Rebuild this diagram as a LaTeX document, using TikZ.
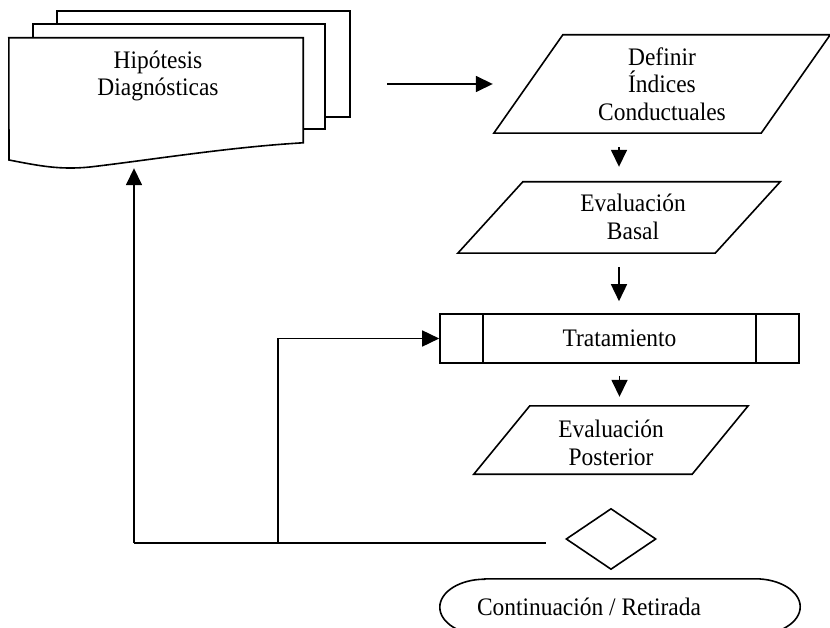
\documentclass[tikz,border=0pt]{standalone}
\usepackage{fontspec}
\setmainfont{Liberation Serif}[FakeStretch=0.93]
\usetikzlibrary{shapes.geometric,arrows.meta,calc}
\begin{document}
\begin{tikzpicture}[x=1pt,y=-1pt,
  ln/.style={line width=1.6pt},
  arr/.style={ln,-{Triangle[length=17pt,width=16pt]}},
  lbl/.style={font=\fontsize{25.2}{27.5}\selectfont, align=center, inner sep=0pt},
  frame/.style={inner sep=0pt}
]
\useasboundingbox (0,0) rectangle (830,628);

% document stack
\node[frame, minimum width=294pt, minimum height=130pt] (doc) at (156,103) {};
\draw[ln, fill=white] (57,11) rectangle (350,117);
\draw[ln, fill=white] (33,24) rectangle (325,129);
\draw[ln, fill=white] (doc.north west) -- (doc.north east) -- ++(0,105)
  .. controls (230,147) and (150,160) .. (90,167)
  .. controls (60,170) and (40,166) .. (9,160) -- cycle;
\node[lbl] (hyp) at (158,76) {Hipótesis\\Diagnósticas};

% Definir
\node[frame, minimum width=336pt, minimum height=98pt] (def) at (662,84) {};
\draw[ln] (def.south west) -- ([xshift=69pt]def.north west) -- (def.north east) -- ([xshift=-69pt]def.south east) -- cycle;
\node[lbl] (defT) at (662,84) {Definir\\Índices\\Conductuales};

% Basal
\node[frame, minimum width=322pt, minimum height=71pt] (bas) at (619,217.5) {};
\draw[ln] (bas.south west) -- ([xshift=65pt]bas.north west) -- (bas.north east) -- ([xshift=-65pt]bas.south east) -- cycle;
\node[lbl] (basT) at (633,217) {Evaluación\\Basal};

% Tratamiento
\node[draw, ln, lbl, minimum width=359pt, minimum height=49pt] (trat) at (619.5,338.5) {Tratamiento};
\draw[ln] ([xshift=43.5pt]trat.north west) -- ([xshift=43.5pt]trat.south west);
\draw[ln] ([xshift=-44pt]trat.north east) -- ([xshift=-44pt]trat.south east);

% Posterior
\node[frame, minimum width=274pt, minimum height=68pt] (post) at (611,440) {};
\draw[ln] (post.south west) -- ([xshift=56pt]post.north west) -- (post.north east) -- ([xshift=-56pt]post.south east) -- cycle;
\node[lbl] (postT) at (611,443) {Evaluación\\Posterior};

% decision
\node[draw, ln, diamond, inner sep=0pt, minimum width=90pt, minimum height=61pt] (dia) at (611,539) {};

% terminal
\node[frame, minimum width=360pt, minimum height=56pt] (fin) at (620,607) {};
\draw[ln] ([xshift=45pt]fin.north west) -- ([xshift=-45pt]fin.north east)
  arc[start angle=90, end angle=-90, x radius=45pt, y radius=28pt]
  -- ([xshift=45pt]fin.south west)
  arc[start angle=270, end angle=90, x radius=45pt, y radius=28pt] -- cycle;
\node[lbl] (finT) at (589,607) {Continuación / Retirada};

% connectors
\draw[arr, shorten <=84pt, shorten >=1pt] (doc.east |- def.west) -- (def.west);
\draw[arr, shorten <=14pt, shorten >=15pt] (bas.north |- def.south) -- (bas.north);
\draw[arr, shorten <=14pt, shorten >=12pt] (bas.south) -- (bas.south |- trat.north);
\draw[arr, shorten <=12pt, shorten >=9pt] (trat.south) -- (trat.south |- post.north);

\coordinate (j1) at (134,543);
\coordinate (j2) at (278,543);
\draw[ln] (j1) -- ([xshift=-19pt]dia.west |- j1);
\draw[arr] (j1) -- (j1 |- doc.south);
\draw[arr] (j2) |- (trat.west);
\end{tikzpicture}
\end{document}
